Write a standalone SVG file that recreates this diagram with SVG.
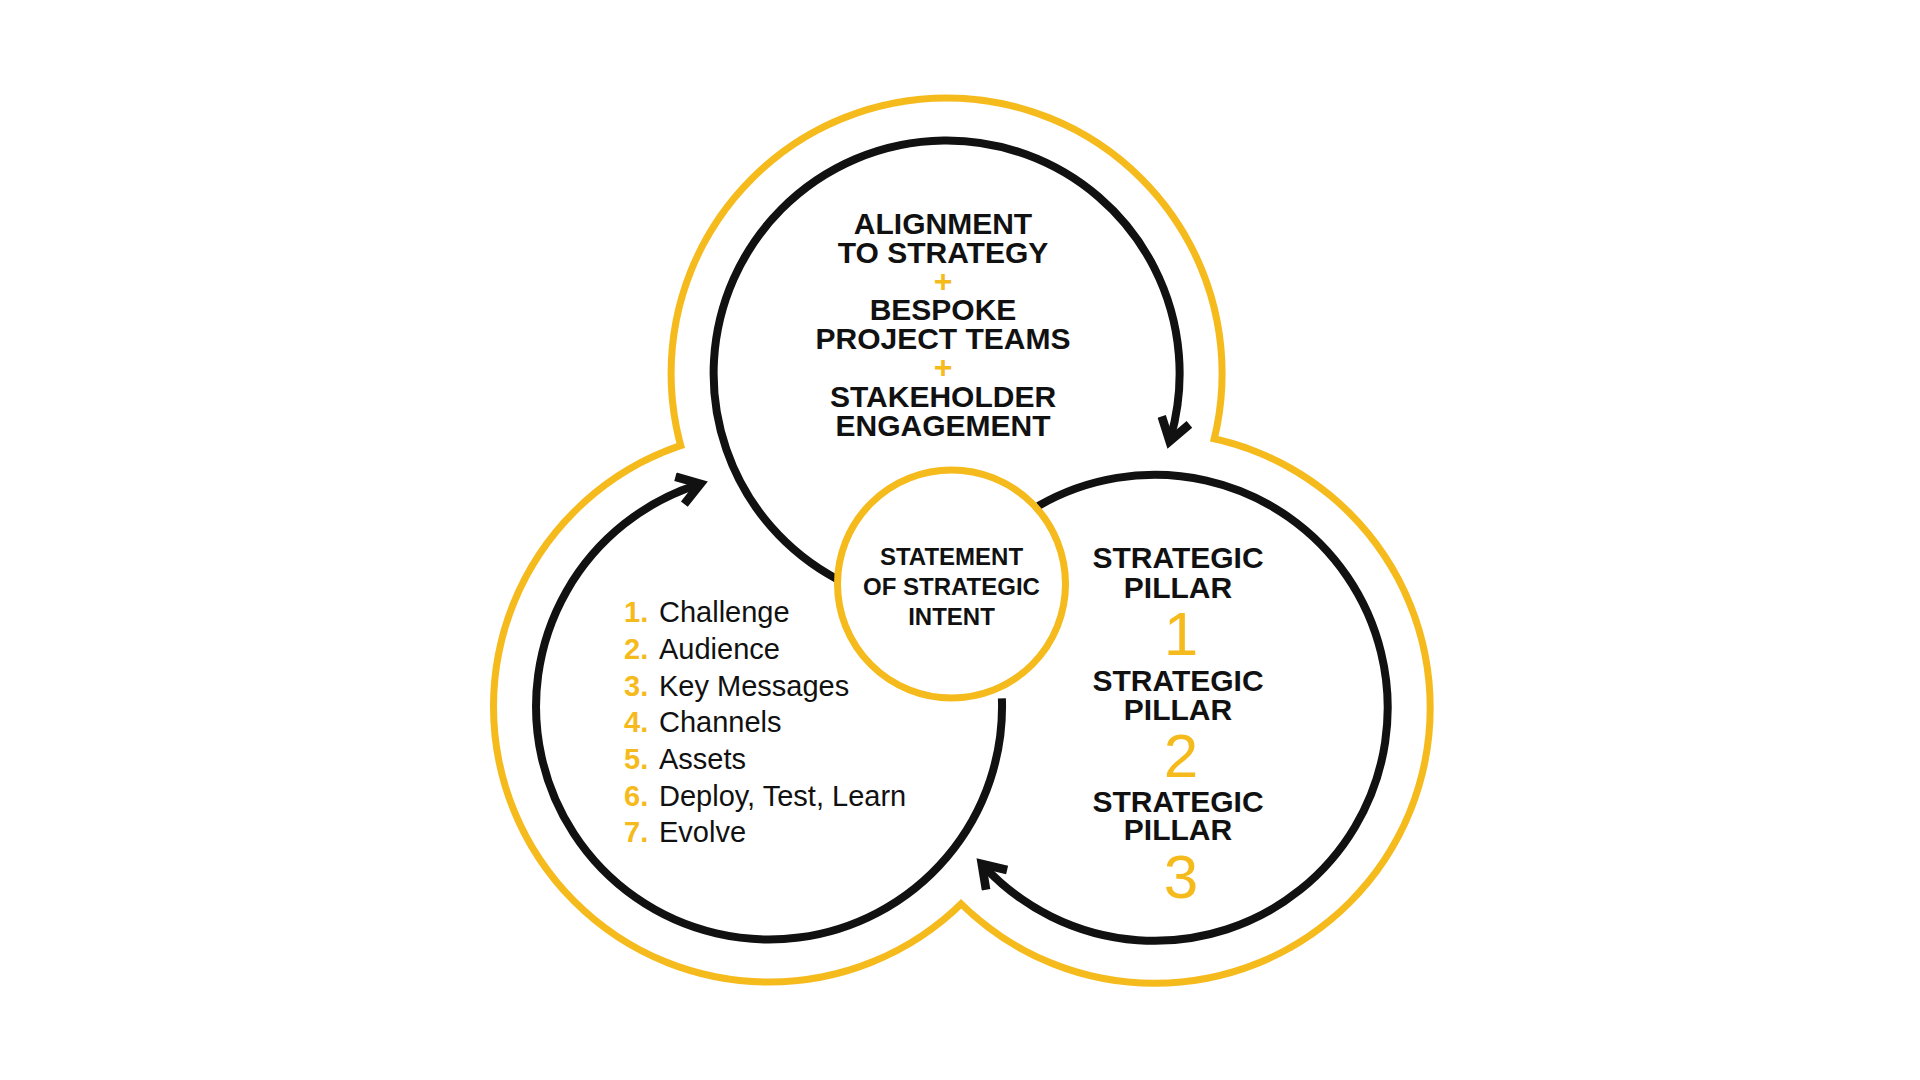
<svg xmlns="http://www.w3.org/2000/svg" width="1920" height="1080" viewBox="0 0 1920 1080">
<style>
.y{fill:none;stroke:#F5BA1C;stroke-width:14}
.w{fill:#fff}
.k{fill:none;stroke:#111;stroke-width:8}
.b{font-family:"Liberation Sans",Arial,sans-serif;font-weight:bold;fill:#111;text-anchor:middle}
.r{font-family:"Liberation Sans",Arial,sans-serif;fill:#111}
.n{fill:#F5BA1C}
.nb{fill:#F5BA1C;font-weight:bold}
</style>
<defs>
<marker id="ah" viewBox="0 0 10 10" refX="6" refY="5" markerWidth="4.5" markerHeight="4.5" orient="auto" markerUnits="strokeWidth">
<path d="M1,1 L7,5 L1,9" fill="none" stroke="#111" stroke-width="2.4"/>
</marker>
</defs>
<rect width="1920" height="1080" fill="#fff"/>
<g id="outer">
<circle class="y" cx="946.6" cy="373.5" r="272"/>
<circle class="y" cx="769" cy="706.5" r="272"/>
<circle class="y" cx="1154.7" cy="707.8" r="272"/>
<circle class="w" cx="946.6" cy="373.5" r="272"/>
<circle class="w" cx="769" cy="706.5" r="272"/>
<circle class="w" cx="1154.7" cy="707.8" r="272"/>
</g>
<g id="connectors">
<path class="k" d="M837.2,579.2 A233,233 0 1 1 1170.6,437.7" marker-end="url(#ah)"/>
<path class="k" d="M1001.9,698.4 A233,233 0 1 1 697,484.9" marker-end="url(#ah)"/>
<path class="k" d="M1038.2,506 A233,233 0 1 1 984.3,866.7" marker-end="url(#ah)"/>
</g>
<g id="center">
<circle cx="951.5" cy="584" r="114" fill="#fff" stroke="#F5BA1C" stroke-width="7"/>
<text class="b" font-size="24" x="951.5" y="565">STATEMENT</text>
<text class="b" font-size="24" x="951.5" y="595">OF STRATEGIC</text>
<text class="b" font-size="24" x="951.5" y="625">INTENT</text>
</g>
<g id="top">
<text class="b" font-size="30" x="943" y="234">ALIGNMENT</text>
<text class="b" font-size="30" x="943" y="263">TO STRATEGY</text>
<text class="b n" font-size="32" x="943" y="292">+</text>
<text class="b" font-size="30" x="943" y="320">BESPOKE</text>
<text class="b" font-size="30" x="943" y="349">PROJECT TEAMS</text>
<text class="b n" font-size="32" x="943" y="378">+</text>
<text class="b" font-size="30" x="943" y="407">STAKEHOLDER</text>
<text class="b" font-size="30" x="943" y="436">ENGAGEMENT</text>
</g>
<g id="right">
<text class="b" font-size="30" x="1178" y="568">STRATEGIC</text>
<text class="b" font-size="30" x="1178" y="598">PILLAR</text>
<text class="r n" font-size="62" x="1181" y="655" text-anchor="middle">1</text>
<text class="b" font-size="30" x="1178" y="691">STRATEGIC</text>
<text class="b" font-size="30" x="1178" y="720">PILLAR</text>
<text class="r n" font-size="62" x="1181" y="777" text-anchor="middle">2</text>
<text class="b" font-size="30" x="1178" y="812">STRATEGIC</text>
<text class="b" font-size="30" x="1178" y="840">PILLAR</text>
<text class="r n" font-size="62" x="1181" y="898" text-anchor="middle">3</text>
</g>
<g id="left" class="r" font-size="29">
<text x="624" y="622"><tspan class="nb">1.</tspan><tspan x="659">Challenge</tspan></text>
<text x="624" y="659"><tspan class="nb">2.</tspan><tspan x="659">Audience</tspan></text>
<text x="624" y="696"><tspan class="nb">3.</tspan><tspan x="659">Key Messages</tspan></text>
<text x="624" y="732"><tspan class="nb">4.</tspan><tspan x="659">Channels</tspan></text>
<text x="624" y="769"><tspan class="nb">5.</tspan><tspan x="659">Assets</tspan></text>
<text x="624" y="806"><tspan class="nb">6.</tspan><tspan x="659">Deploy, Test, Learn</tspan></text>
<text x="624" y="842"><tspan class="nb">7.</tspan><tspan x="659">Evolve</tspan></text>
</g>
</svg>
